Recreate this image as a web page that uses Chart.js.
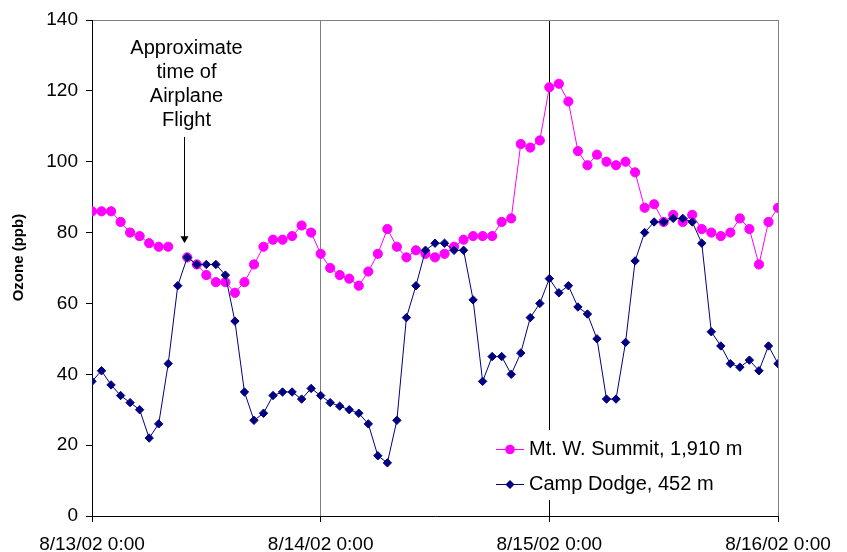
<!DOCTYPE html>
<html>
<head>
<meta charset="utf-8">
<script src="https://cdn.jsdelivr.net/npm/chart.js@4.4.1/dist/chart.umd.min.js"></script>
<style>
  html, body { margin: 0; padding: 0; background: #fff; }
  #wrap { width: 847px; height: 552px; }
</style>
</head>
<body>
<div id="wrap"><canvas id="c" width="847" height="552"></canvas></div>
<script>
// Hourly ozone, 8/13/02 0:00 through 8/16/02 0:00 (index = hours since start)
const tickLabels = ['8/13/02 0:00', '8/14/02 0:00', '8/15/02 0:00', '8/16/02 0:00'];

const summitName = 'Mt. W. Summit, 1,910 m';
const summitOzone = [
  86, 86, 86, 83, 80, 79, 77, 76, 76, null, 73, 71, 68, 66, 66, 63, 66, 71, 76, 78, 78, 79, 82, 80,
  74, 70, 68, 67, 65, 69, 74, 81, 76, 73, 75, 74, 73, 74, 76, 78, 79, 79, 79, 83, 84, 105, 104, 106,
  121, 122, 117, 103, 99, 102, 100, 99, 100, 97, 87, 88, 83, 85, 83, 85, 81, 80, 79, 80, 84, 81, 71, 83,
  87
];

const dodgeName = 'Camp Dodge, 452 m';
const dodgeOzone = [
  38, 41, 37, 34, 32, 30, 22, 26, 43, 65, 73, 71, 71, 71, 68, 55, 35, 27, 29, 34, 35, 35, 33, 36,
  34, 32, 31, 30, 29, 26, 17, 15, 27, 56, 65, 75, 77, 77, 75, 75, 61, 38, 45, 45, 40, 46, 56, 60,
  67, 63, 65, 59, 57, 50, 33, 33, 49, 72, 80, 83, 83, 84, 84, 83, 77, 52, 48, 43, 42, 44, 41, 48,
  43, 47
];

const noteLines = ['Approximate', 'time of', 'Airplane', 'Flight'];
const flightHour = 9.7;      // arrow position on the time axis
const arrowTipValue = 77;    // arrow tip, ppb
const arrowTopValue = 107;   // arrow tail, ppb

const FONT = '"Liberation Sans", Arial, Helvetica, sans-serif';
Chart.defaults.font.family = FONT;
Chart.defaults.color = '#000';

const toPoints = vals => vals.map((v, i) => ({ x: i, y: v }));
const lastHour = (tickLabels.length - 1) * 24;

// Small line-plus-marker swatch used as the legend symbol
function legendSample(ds) {
  const c = document.createElement('canvas');
  c.width = 28; c.height = 12;
  const g = c.getContext('2d');
  g.strokeStyle = ds.borderColor;
  g.lineWidth = 1;
  g.beginPath(); g.moveTo(0, 6.5); g.lineTo(28, 6.5); g.stroke();
  g.fillStyle = ds.pointBackgroundColor;
  g.beginPath();
  if (ds.pointStyle === 'rectRot') {
    g.moveTo(14, 2); g.lineTo(18.5, 6.5); g.lineTo(14, 11); g.lineTo(9.5, 6.5); g.closePath();
  } else {
    g.arc(14, 6.5, 4.8, 0, Math.PI * 2);
  }
  g.fill();
  return c;
}

// Put the legend inside the plot (lower right) on a white backing
const legendPlacement = {
  id: 'legendPlacement',
  afterLayout(chart) {
    const lg = chart.legend, a = chart.chartArea;
    if (!lg) return;
    lg.left = a.left + 394;
    lg.top = a.top + 404;
    lg.right = lg.left + 290;
    lg.bottom = a.bottom;
    if (!lg._backed) {
      const draw = lg.draw.bind(lg);
      lg.draw = function () {
        const ctx = chart.ctx;
        ctx.save();
        ctx.fillStyle = '#fff';
        ctx.fillRect(lg.left + 4, lg.top + 6, 280, 70);
        ctx.restore();
        draw();
      };
      lg._backed = true;
    }
  }
};

// Text note with an arrow pointing at the flight time
const flightNote = {
  id: 'flightNote',
  afterDraw(chart) {
    const { ctx } = chart;
    const xs = chart.scales.x, ys = chart.scales.y;
    const ax = Math.round(xs.getPixelForValue(flightHour)) + 0.5;
    const tip = ys.getPixelForValue(arrowTipValue);
    const tail = ys.getPixelForValue(arrowTopValue);
    ctx.save();
    ctx.fillStyle = '#000';
    ctx.font = '20px ' + FONT;
    ctx.textAlign = 'center';
    ctx.textBaseline = 'middle';
    const tx = ax + 2;
    noteLines.forEach((t, i) => ctx.fillText(t, tx, chart.chartArea.top + 28 + i * 24));
    ctx.strokeStyle = '#000';
    ctx.lineWidth = 1;
    ctx.beginPath();
    ctx.moveTo(ax, tail);
    ctx.lineTo(ax, tip - 6);
    ctx.stroke();
    ctx.beginPath();
    ctx.moveTo(ax - 4, tip - 7);
    ctx.lineTo(ax + 4, tip - 7);
    ctx.lineTo(ax, tip);
    ctx.closePath();
    ctx.fill();
    ctx.restore();
  }
};

const dayLineColors = ['rgba(0,0,0,0)', '#808080', '#000000', '#808080'];

new Chart(document.getElementById('c'), {
  type: 'line',
  data: {
    datasets: [
      {
        label: summitName,
        data: toPoints(summitOzone),
        borderColor: '#FF00FF',
        backgroundColor: '#FF00FF',
        pointBackgroundColor: '#FF00FF',
        pointBorderColor: '#FF00FF',
        pointStyle: 'circle',
        pointRadius: 4.6,
        pointBorderWidth: 1,
        borderWidth: 1,
        tension: 0,
        spanGaps: false,
        order: 2
      },
      {
        label: dodgeName,
        data: toPoints(dodgeOzone),
        borderColor: '#000080',
        backgroundColor: '#000080',
        pointBackgroundColor: '#000080',
        pointBorderColor: '#000080',
        pointStyle: 'rectRot',
        pointRadius: ctx => (ctx.dataIndex > lastHour ? 0 : 4.2),
        pointBorderWidth: 1,
        borderWidth: 1,
        tension: 0,
        order: 1
      }
    ]
  },
  options: {
    responsive: false,
    animation: false,
    events: [],
    layout: { padding: { left: 0, top: 20, right: 69, bottom: 0 } },
    plugins: {
      tooltip: { enabled: false },
      legend: {
        position: 'chartArea',
        align: 'start',
        labels: {
          usePointStyle: true,
          boxWidth: 18,
          padding: 15,
          color: '#000',
          font: { size: 20 },
          sort: (a, b) => a.datasetIndex - b.datasetIndex,
          generateLabels(chart) {
            const items = Chart.defaults.plugins.legend.labels.generateLabels(chart);
            items.forEach(it => {
              it.pointStyle = legendSample(chart.data.datasets[it.datasetIndex]);
              it.lineWidth = 0;
            });
            return items;
          }
        }
      }
    },
    scales: {
      x: {
        type: 'linear',
        min: 0,
        max: lastHour,
        afterFit: s => { s.height = 36; },
        afterBuildTicks: s => { s.ticks = tickLabels.map((_, i) => ({ value: i * 24 })); },
        ticks: {
          autoSkip: false,
          maxRotation: 0,
          padding: 11,
          font: { size: 19 },
          color: '#000',
          callback: (v, i) => tickLabels[i]
        },
        grid: {
          drawOnChartArea: true,
          color: ctx => dayLineColors[ctx.index] || 'rgba(0,0,0,0)',
          tickColor: '#000',
          tickLength: 6,
          lineWidth: 1
        },
        border: { display: true, color: '#000', width: 1 }
      },
      y: {
        min: 0,
        max: 140,
        afterFit: s => { s.width = 92; },
        ticks: {
          stepSize: 20,
          padding: 8,
          font: { size: 19 },
          color: '#000'
        },
        grid: {
          drawOnChartArea: true,
          color: ctx => (ctx.tick && ctx.tick.value === 140 ? '#808080' : 'rgba(0,0,0,0)'),
          tickColor: '#000',
          tickLength: 6,
          lineWidth: 1
        },
        border: { display: true, color: '#000', width: 1 },
        title: {
          display: true,
          text: '     Ozone (ppb)',
          color: '#000',
          font: { size: 15, weight: 'bold' },
          padding: { top: 10, bottom: 0 }
        }
      }
    }
  },
  plugins: [legendPlacement, flightNote]
});
</script>
</body>
</html>
